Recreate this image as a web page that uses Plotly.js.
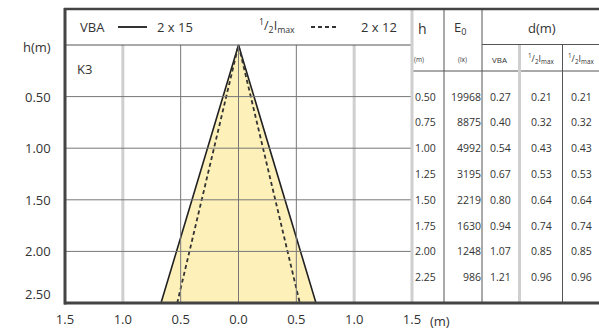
<!DOCTYPE html>
<html>
<head>
<meta charset="utf-8">
<script src="https://cdn.plot.ly/plotly-3.0.1.min.js"></script>
<style>
  body { margin: 0; background: #fff; }
  #plot-area { width: 599px; height: 335px; }
</style>
</head>
<body>
<div id="plot-area"></div>
<script>
// cone outline: half width (m) at height h (m)
var coneH = [0, 2.5];
var coneVBA = [0, 0.67];
var coneHalf = [0, 0.53];

// table values
var tableH = [0.50, 0.75, 1.00, 1.25, 1.50, 1.75, 2.00, 2.25];
var tableE0 = [19968, 8875, 4992, 3195, 2219, 1630, 1248, 986];
var dVBA = [0.27, 0.40, 0.54, 0.67, 0.80, 0.94, 1.07, 1.21];
var dHalfA = [0.21, 0.32, 0.43, 0.53, 0.64, 0.74, 0.85, 0.96];
var dHalfB = [0.21, 0.32, 0.43, 0.53, 0.64, 0.74, 0.85, 0.96];

var xTicks = [-1.5, -1.0, -0.5, 0, 0.5, 1.0, 1.5];
var xTickText = ["1.5", "1.0", "0.5", "0.0", "0.5", "1.0", "1.5"];
var yTicks = [0.5, 1.0, 1.5, 2.0, 2.5];
var yTickText = ["0.50", "1.00", "1.50", "2.00", "2.50"];

var FONT = "Open Sans, Noto Sans, sans-serif";
var INK = "#333";

// plot box in pixels (margins below)
var L = 65, R = 187, T = 8, B = 32, W = 599, H = 335;
function px(x) { return (x - L) / (W - L - R); }
function py(y) { return (H - B - y) / (H - T - B); }

function mirror(xs) {
    // left side reversed, then right side: outline of the cone
    var out = [];
    for (var i = xs.length - 1; i >= 0; i--) out.push(-xs[i]);
    for (var j = 1; j < xs.length; j++) out.push(xs[j]);
    return out;
}
function mirrorH(hs) {
    var out = [];
    for (var i = hs.length - 1; i >= 0; i--) out.push(hs[i]);
    for (var j = 1; j < hs.length; j++) out.push(hs[j]);
    return out;
}

function UpdatePlot() {
    var data = [
        {
            x: mirror(coneVBA),
            y: mirrorH(coneH),
            mode: "lines",
            fill: "toself",
            fillcolor: "#fdf0b9",
            line: {color: "#222", width: 1.6},
            hoverinfo: "skip"
        },
        {
            x: mirror(coneHalf),
            y: mirrorH(coneH),
            mode: "lines",
            line: {color: "#333", width: 1.8, dash: "4px,3px"},
            hoverinfo: "skip"
        }
    ];

    var shapes = [];
    // vertical grid
    xTicks.forEach(function (v) {
        if (Math.abs(v) === 1.5) return;
        var light = Math.abs(v) === 1.0;
        shapes.push({type: "line", xref: "x", yref: "y", x0: v, x1: v, y0: 0, y1: 2.5,
            layer: "above",
            line: {color: light ? "#cfcfcf" : "#777", width: light ? 3 : 1}});
    });
    // horizontal grid
    yTicks.forEach(function (v) {
        if (v === 2.5) return;
        shapes.push({type: "line", xref: "x", yref: "y", x0: -1.5, x1: 1.5, y0: v, y1: v,
            layer: "above", line: {color: "#777", width: 1}});
    });
    // frame and table rules
    function hl(x0, x1, y, c, w) {
        shapes.push({type: "line", xref: "paper", yref: "paper", x0: px(x0), x1: px(x1),
            y0: py(y), y1: py(y), layer: "above", line: {color: c, width: w}});
    }
    function vl(x, y0, y1, c, w) {
        shapes.push({type: "line", xref: "paper", yref: "paper", x0: px(x), x1: px(x),
            y0: py(y0), y1: py(y1), layer: "above", line: {color: c, width: w}});
    }
    hl(L, L + 347, 45, "#555", 1);
    hl(482, W, 44.5, "#555", 1);
    hl(412, W, 71, "#555", 1);
    vl(412, T, H - B, "#cfcfcf", 3);
    vl(444, T, H - B, "#555", 1);
    vl(482, T, H - B, "#555", 1);
    vl(519.5, 45, H - B, "#cfcfcf", 3);
    vl(562.5, 45, H - B, "#555", 1);
    hl(L - 1, W, T + 1, "#444", 2.5);
    hl(L - 1, W, H - B, "#444", 3);
    vl(L, T, H - B + 1.5, "#444", 3);
    // legend line samples in the header
    hl(118, 147, 27, "#333", 2);
    shapes.push({type: "line", xref: "paper", yref: "paper", x0: px(311), x1: px(338),
        y0: py(27), y1: py(27), layer: "above", line: {color: "#333", width: 2, dash: "4px,3px"}});

    var annotations = [];
    function txt(x, y, s, size, anchor) {
        annotations.push({xref: "paper", yref: "paper", x: px(x), y: py(y),
            text: s, showarrow: false, xanchor: anchor || "center", yanchor: "middle",
            font: {family: FONT, size: size, color: INK}});
    }
    txt(78, 27, "VBA", 13, "left");
    txt(155, 27, "2 x 15", 13, "left");
    txt(257, 26, "<sup>1</sup>/<sub>2</sub>I<sub>max</sub>", 12.5, "left");
    txt(399, 27, "2 x 12", 13, "right");
    txt(53, 47, "h(m)", 13, "right");
    txt(75, 69, "K3", 13, "left");
    txt(440, 321, "(m)", 13, "center");

    txt(423, 28, "h", 14);
    txt(460, 28, "E<sub>0</sub>", 13);
    txt(542, 28, "d(m)", 13);
    txt(419, 59, "(m)", 6.5);
    txt(462, 59, "(lx)", 6.5);
    txt(500, 59, "VBA", 8);
    txt(541, 58, "<sup>1</sup>/<sub>2</sub>I<sub>max</sub>", 9);
    txt(581, 58, "<sup>1</sup>/<sub>2</sub>I<sub>max</sub>", 9);

    // y tick labels, the last one lifted above the bottom rule
    yTicks.forEach(function (v, i) {
        var last = i === yTicks.length - 1;
        annotations.push({xref: "paper", yref: "y", x: px(53), y: v, text: yTickText[i],
            showarrow: false, xanchor: "right", yanchor: last ? "bottom" : "middle",
            yshift: last ? -2 : 0,
            font: {family: FONT, size: 13, color: INK}});
    });

    tableH.forEach(function (h, i) {
        function cell(x, s, anchor) {
            annotations.push({xref: "paper", yref: "y", x: px(x), y: h, text: s,
                showarrow: false, xanchor: anchor, yanchor: "middle",
                font: {family: FONT, size: 10.5, color: INK}});
        }
        cell(413, h.toFixed(2), "left");
        cell(483, String(tableE0[i]), "right");
        cell(500.5, dVBA[i].toFixed(2), "center");
        cell(541, dHalfA[i].toFixed(2), "center");
        cell(581, dHalfB[i].toFixed(2), "center");
    });

    var layout = {
        width: W, height: H,
        margin: {l: L, r: R, t: T, b: B, pad: 0},
        paper_bgcolor: "#fff", plot_bgcolor: "#fff",
        showlegend: false,
        font: {family: FONT, size: 13, color: INK},
        xaxis: {range: [-1.5, 1.5], tickvals: xTicks, ticktext: xTickText,
            showgrid: false, zeroline: false, showline: false,
            ticks: "outside", ticklen: 4, tickcolor: "rgba(0,0,0,0)",
            tickfont: {family: FONT, size: 13, color: INK}, fixedrange: true},
        yaxis: {range: [2.5, -(45 - T) / 103.2], showticklabels: false,
            showgrid: false, zeroline: false, showline: false, fixedrange: true},
        shapes: shapes,
        annotations: annotations
    };

    Plotly.newPlot("plot-area", data, layout, {staticPlot: true});
}

UpdatePlot();
</script>
</body>
</html>
